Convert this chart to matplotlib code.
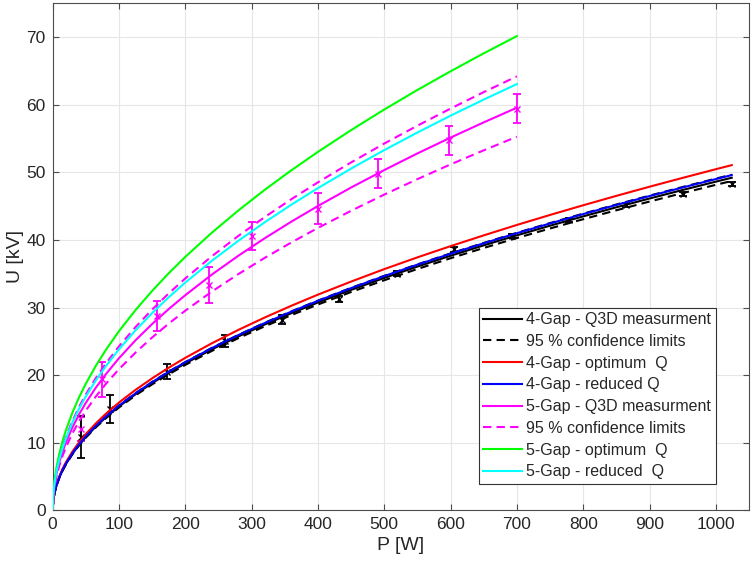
import matplotlib
matplotlib.use("Agg")
import matplotlib.pyplot as plt

plt.rcParams['font.family'] = ['Liberation Sans', 'DejaVu Sans']
plt.rcParams['text.color'] = '#262626'
plt.rcParams['xtick.labelcolor'] = '#262626'
plt.rcParams['ytick.labelcolor'] = '#262626'
plt.rcParams['axes.labelcolor'] = '#262626'

# fitted curves
p_fit5 = [0, 1, 3, 6, 10, 15, 20, 30, 40, 50, 65, 80, 100, 125, 150, 175, 200,
          240, 280, 320, 360, 400, 450, 500, 550, 600, 650, 700]
u_opt5 = [0, 2.65, 4.59, 6.49, 8.38, 10.26, 11.85, 14.51, 16.76, 18.74, 21.36, 23.70, 26.5, 29.63,
          32.45, 35.06, 37.48, 41.05, 44.34, 47.41, 50.28, 53.0, 56.21, 59.26, 62.15, 64.91, 67.56, 70.11]
u_red5 = [0, 2.38, 4.13, 5.83, 7.53, 9.23, 10.65, 13.05, 15.07, 16.84, 19.20, 21.30, 23.82, 26.63,
          29.17, 31.51, 33.69, 36.90, 39.86, 42.61, 45.20, 47.64, 50.53, 53.26, 55.86, 58.35, 60.73, 63.02]
u_meas5 = [0, 2.25, 3.90, 5.51, 7.11, 8.71, 10.06, 12.32, 14.23, 15.91, 18.14, 20.12, 22.5, 25.16,
           27.56, 29.77, 31.82, 34.86, 37.65, 40.25, 42.69, 45.0, 47.73, 50.31, 52.77, 55.11, 57.36, 59.53]
u_hi5 = [0, 2.43, 4.20, 5.94, 7.67, 9.39, 10.84, 13.28, 15.34, 17.15, 19.55, 21.69, 24.25, 27.11,
         29.70, 32.08, 34.29, 37.57, 40.58, 43.38, 46.01, 48.5, 51.44, 54.23, 56.87, 59.40, 61.83, 64.16]
u_lo5 = [0, 2.09, 3.62, 5.11, 6.60, 8.09, 9.34, 11.44, 13.21, 14.76, 16.83, 18.68, 20.88, 23.34,
         25.57, 27.62, 29.53, 32.35, 34.94, 37.35, 39.62, 41.76, 44.29, 46.69, 48.97, 51.15, 53.23, 55.24]

p_fit4 = [0, 1, 3, 6, 10, 15, 20, 30, 40, 50, 65, 80, 100, 125, 150, 175, 200,
          240, 280, 320, 360, 400, 450, 500, 550, 600, 650, 700, 750, 800, 850, 900, 950, 1000, 1024]
u_opt4 = [0, 1.60, 2.76, 3.91, 5.04, 6.18, 7.13, 8.74, 10.09, 11.28, 12.86, 14.27, 15.95, 17.83,
          19.53, 21.10, 22.56, 24.71, 26.69, 28.53, 30.26, 31.9, 33.83, 35.67, 37.41, 39.07, 40.66,
          42.20, 43.68, 45.11, 46.50, 47.85, 49.16, 50.44, 51.04]
u_red4 = [0, 1.55, 2.68, 3.79, 4.90, 6.00, 6.93, 8.48, 9.80, 10.95, 12.49, 13.85, 15.49, 17.32,
          18.97, 20.49, 21.91, 24.00, 25.92, 27.71, 29.39, 30.98, 32.86, 34.64, 36.33, 37.94, 39.49,
          40.98, 42.42, 43.81, 45.16, 46.47, 47.74, 48.98, 49.57]
u_meas4 = [0, 1.54, 2.66, 3.76, 4.86, 5.95, 6.87, 8.42, 9.72, 10.87, 12.39, 13.75, 15.37, 17.18,
           18.82, 20.33, 21.74, 23.81, 25.72, 27.50, 29.16, 30.74, 32.60, 34.37, 36.05, 37.65, 39.19,
           40.67, 42.09, 43.47, 44.81, 46.11, 47.37, 48.60, 49.18]
u_hi4 = [0, 1.55, 2.69, 3.80, 4.90, 6.01, 6.94, 8.49, 9.81, 10.97, 12.50, 13.87, 15.51, 17.34,
         19.0, 20.52, 21.93, 24.03, 25.95, 27.75, 29.43, 31.02, 32.90, 34.68, 36.37, 37.99, 39.54,
         41.04, 42.48, 43.87, 45.22, 46.53, 47.81, 49.05, 49.63]
u_lo4 = [0, 1.52, 2.64, 3.73, 4.81, 5.89, 6.81, 8.34, 9.63, 10.76, 12.27, 13.61, 15.22, 17.02,
         18.64, 20.13, 21.52, 23.58, 25.47, 27.23, 28.88, 30.44, 32.29, 34.03, 35.69, 37.28, 38.80,
         40.27, 41.68, 43.05, 44.37, 45.66, 46.91, 48.13, 48.70]

# measured points with error bars
p_pts4 = [43, 86, 173, 260, 346, 432, 519, 605, 692, 778, 865, 951, 1024]
u_pts4 = [10.9, 15.0, 20.5, 25.1, 28.2, 31.2, 35.0, 38.6, 40.5, 42.9, 45.1, 46.8, 48.3]
e_pts4 = [3.1, 2.0, 1.1, 0.9, 0.7, 0.45, 0.4, 0.35, 0.3, 0.3, 0.3, 0.3, 0.3]

p_pts5 = [43, 75, 157, 236, 300, 400, 490, 598, 700]
u_pts5 = [12.0, 19.4, 28.7, 33.3, 40.6, 44.6, 49.8, 54.7, 59.4]
e_pts5 = [1.8, 2.6, 2.2, 2.65, 2.05, 2.3, 2.15, 2.15, 2.1]

fig = plt.figure(figsize=(7.52, 5.70), dpi=100)
ax = fig.add_axes([0.070, 0.1044, 0.926, 0.8903])

lw = 1.5
dash = (0, (4, 2.5))
ax.errorbar(p_pts5, u_pts5, yerr=e_pts5, fmt='x', color='#ff00ff', ms=4.5,
            elinewidth=1.3, capsize=2.6, capthick=1.3, zorder=2)
ax.errorbar(p_pts4, u_pts4, yerr=e_pts4, fmt='x', color='black', ms=4.5,
            elinewidth=1.3, capsize=2.6, capthick=1.3, zorder=2)

ax.plot(p_fit4, u_meas4, color='black', lw=lw, label='4-Gap - Q3D measurment', zorder=3)
ax.plot(p_fit4, u_hi4, color='black', lw=lw, ls=dash, label='95 % confidence limits', zorder=3)
ax.plot(p_fit4, u_lo4, color='black', lw=lw, ls=dash, zorder=3)
ax.plot(p_fit4, u_opt4, color='#ff0000', lw=lw, label='4-Gap - optimum  Q', zorder=3)
ax.plot(p_fit4, u_red4, color='#0000ff', lw=lw, label='4-Gap - reduced Q', zorder=3)
ax.plot(p_fit5, u_meas5, color='#ff00ff', lw=lw, label='5-Gap - Q3D measurment', zorder=3)
ax.plot(p_fit5, u_hi5, color='#ff00ff', lw=lw, ls=dash, label='95 % confidence limits', zorder=3)
ax.plot(p_fit5, u_lo5, color='#ff00ff', lw=lw, ls=dash, zorder=3)
ax.plot(p_fit5, u_opt5, color='#00ff00', lw=lw, label='5-Gap - optimum  Q', zorder=3)
ax.plot(p_fit5, u_red5, color='#00ffff', lw=lw, label='5-Gap - reduced  Q', zorder=3)

ax.set_xlim(0, 1050)
ax.set_ylim(0, 75)
ax.set_xticks(range(0, 1001, 100))
ax.set_yticks(range(0, 71, 10))
ax.grid(True, color='#e6e6e6', lw=0.8)
ax.set_axisbelow(True)
ax.tick_params(direction='in', top=True, right=True, labelsize=12.5,
               color='#4d4d4d', length=4, width=0.8, pad=5)
for s in ax.spines.values():
    s.set_color('#4d4d4d')
    s.set_linewidth(0.8)

ax.set_xlabel('P [W]', fontsize=14, labelpad=3)
ax.set_ylabel('U [kV]', fontsize=14, labelpad=2)

leg = ax.legend(loc='lower right', bbox_to_anchor=(0.953, 0.052), fontsize=11.5,
                frameon=True, fancybox=False, framealpha=1, edgecolor='#333333',
                handlelength=2.4, handletextpad=0.3, labelspacing=0.42,
                borderpad=0.3, borderaxespad=0)
leg.get_frame().set_linewidth(0.8)

fig.savefig('out.png', dpi=100)
